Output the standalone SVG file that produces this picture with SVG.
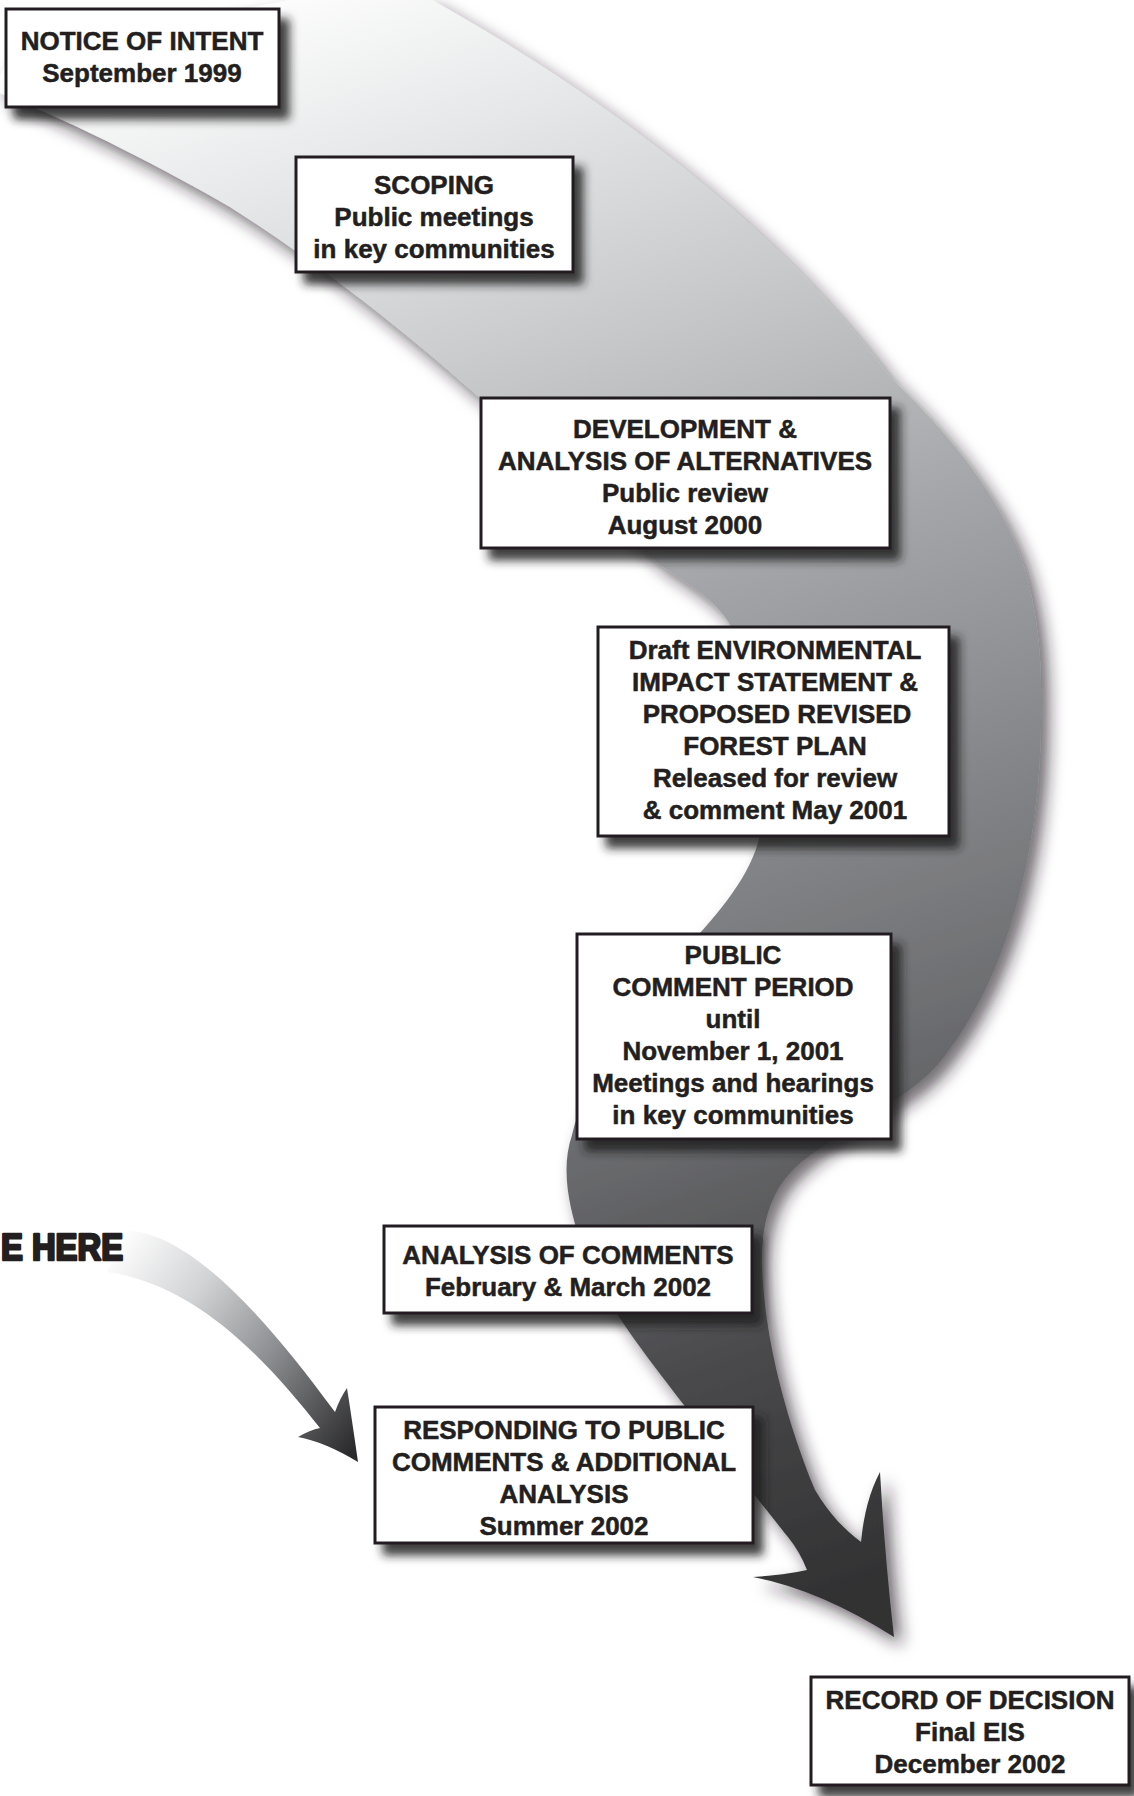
<svg xmlns="http://www.w3.org/2000/svg" width="1134" height="1796" viewBox="0 0 1134 1796">
<defs>
<style>
.box{fill:#ffffff;stroke:#231f20;stroke-width:3;filter:url(#bs)}
.t{font-family:"Liberation Sans",Arial,sans-serif;font-weight:bold;font-size:26px;fill:#231f20;stroke:#231f20;stroke-width:0.5;text-anchor:middle}
.here{font-family:"Liberation Sans",Arial,sans-serif;font-weight:bold;font-size:36px;fill:#231f20;stroke:#231f20;stroke-width:2.6;stroke-linejoin:round}
</style>
<filter id="bs" x="-10%" y="-15%" width="130%" height="150%">
<feDropShadow dx="9" dy="11" stdDeviation="5" flood-color="#231f20" flood-opacity="0.85"/>
</filter>
<filter id="rs" x="-10%" y="-5%" width="125%" height="115%">
<feDropShadow dx="8" dy="9" stdDeviation="8" flood-color="#231f20" flood-opacity="0.65"/>
</filter>
<linearGradient id="gband" gradientUnits="userSpaceOnUse" x1="150" y1="20" x2="700" y2="1640">
<stop offset="0" stop-color="#ffffff"/>
<stop offset="0.12" stop-color="#e6e7e8"/>
<stop offset="0.27" stop-color="#c5c6c8"/>
<stop offset="0.42" stop-color="#a2a4a7"/>
<stop offset="0.57" stop-color="#858689"/>
<stop offset="0.72" stop-color="#68696c"/>
<stop offset="0.86" stop-color="#48484a"/>
<stop offset="1" stop-color="#323233"/>
</linearGradient>
<linearGradient id="ghere" gradientUnits="userSpaceOnUse" x1="110" y1="1250" x2="360" y2="1440">
<stop offset="0" stop-color="#ffffff"/>
<stop offset="0.3" stop-color="#d2d3d5"/>
<stop offset="0.62" stop-color="#8a8b8e"/>
<stop offset="1" stop-color="#2b2b2d"/>
</linearGradient>
</defs>
<rect width="1134" height="1796" fill="#ffffff"/>
<g id="connectors">
<path id="band" filter="url(#rs)" fill="url(#gband)" d="M 432,0 C 620,105 790,240 890,377 C 935,420 990,480 1017,547 C 1035,592 1042,650 1041,700 C 1043,830 1015,970 940,1062 C 910,1100 830,1135 795,1168 C 772,1190 762,1220 762,1260 C 763,1340 790,1430 815,1490 C 830,1515 845,1530 861,1542 Q 865,1500 880,1472 Q 885,1560 894,1637 Q 820,1590 753,1577 Q 785,1575 807,1570 Q 800,1552 788,1537 C 770,1515 720,1450 680,1400 C 650,1360 600,1300 580,1240 C 570,1210 560,1170 572,1135 C 590,1060 650,990 700,933 C 730,900 760,860 762,820 C 765,760 760,690 729,623 C 715,600 690,585 660,565 C 620,530 560,470 479,397 C 420,345 330,270 230,207 C 170,172 80,125 0,93 L 0,77 L 10,55 L 290,0 Z"/>
<path id="here-arrow" fill="url(#ghere)" d="M 127,1230 C 190,1235 260,1310 335,1412 Q 340,1398 347,1388 Q 352,1420 358,1462 Q 325,1442 298,1437 Q 310,1430 320,1428 C 270,1365 200,1285 107,1272 Z"/>
</g>
<g id="label-here"><text class="here" x="1" y="1260" textLength="122" lengthAdjust="spacingAndGlyphs">E HERE</text></g>
<g id="n1"><rect class="box" x="6" y="9" width="273" height="98"/>
<text class="t" x="142" y="49.5">NOTICE OF INTENT</text>
<text class="t" x="142" y="81.5">September 1999</text></g>
<g id="n2"><rect class="box" x="296" y="157" width="277" height="115"/>
<text class="t" x="434" y="194">SCOPING</text>
<text class="t" x="434" y="226">Public meetings</text>
<text class="t" x="434" y="258">in key communities</text></g>
<g id="n3"><rect class="box" x="481" y="398" width="409" height="150"/>
<text class="t" x="685" y="438">DEVELOPMENT &amp;</text>
<text class="t" x="685" y="470">ANALYSIS OF ALTERNATIVES</text>
<text class="t" x="685" y="502">Public review</text>
<text class="t" x="685" y="533.5">August 2000</text></g>
<g id="n4"><rect class="box" x="598" y="627" width="351" height="209"/>
<text class="t" x="775" y="659">Draft ENVIRONMENTAL</text>
<text class="t" x="775" y="691">IMPACT STATEMENT &amp;</text>
<text class="t" x="777" y="723">PROPOSED REVISED</text>
<text class="t" x="775" y="755">FOREST PLAN</text>
<text class="t" x="775" y="787">Released for review</text>
<text class="t" x="775" y="819">&amp; comment May 2001</text></g>
<g id="n5"><rect class="box" x="577" y="934" width="314" height="205"/>
<text class="t" x="733" y="963.5">PUBLIC</text>
<text class="t" x="733" y="995.5">COMMENT PERIOD</text>
<text class="t" x="733" y="1027.5">until</text>
<text class="t" x="733" y="1059.5">November 1, 2001</text>
<text class="t" x="733" y="1091.5">Meetings and hearings</text>
<text class="t" x="733" y="1123.5">in key communities</text></g>
<g id="n6"><rect class="box" x="384" y="1226" width="368" height="87"/>
<text class="t" x="568" y="1263.5">ANALYSIS OF COMMENTS</text>
<text class="t" x="568" y="1295.5">February &amp; March 2002</text></g>
<g id="n7"><rect class="box" x="375" y="1407" width="378" height="136"/>
<text class="t" x="564" y="1439">RESPONDING TO PUBLIC</text>
<text class="t" x="564" y="1471">COMMENTS &amp; ADDITIONAL</text>
<text class="t" x="564" y="1503">ANALYSIS</text>
<text class="t" x="564" y="1535">Summer 2002</text></g>
<g id="n8"><rect class="box" x="811" y="1677" width="318" height="108"/>
<text class="t" x="970" y="1708.5">RECORD OF DECISION</text>
<text class="t" x="970" y="1740.5">Final EIS</text>
<text class="t" x="970" y="1772.5">December 2002</text></g>
</svg>
